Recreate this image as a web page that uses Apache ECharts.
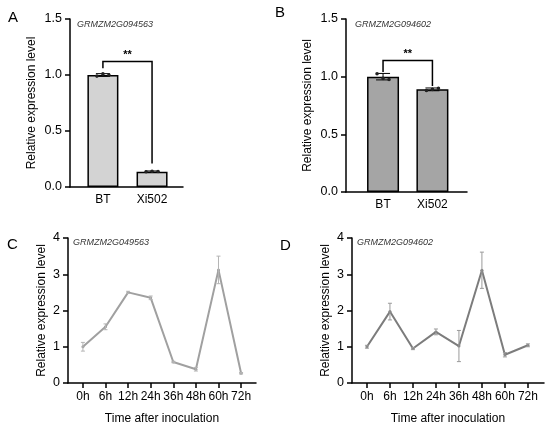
<!DOCTYPE html>
<html>
<head>
<meta charset="utf-8">
<script src="https://cdn.jsdelivr.net/npm/echarts@6/dist/echarts.min.js"></script>
<style>
  html, body { margin: 0; padding: 0; background: #fff; }
  #main { width: 550px; height: 426px; }
</style>
</head>
<body>
<div id="main"></div>
<script>
// 柱状图数据
var barCats = ['BT', 'Xi502'];
var aMean = [1.0, 0.137];
var aSd = [0.012, 0.006];
var aReps = [[0.99, 1.01, 1.0], [0.136, 0.14, 0.138]];
var bMean = [1.0, 0.89];
var bSd = [0.028, 0.012];
var bReps = [[1.025, 0.985, 0.975], [0.88, 0.89, 0.9]];
// 显著性括号 [左, 右, 顶部, 左端, 右端]
var aBracket = [0, 1, 1.12, 1.06, 0.21];
var bBracket = [0, 1, 1.14, 1.04, 0.92];

// 时间点数据
var timeCats = ['0h', '6h', '12h', '24h', '36h', '48h', '60h', '72h'];
var cMean = [1.0, 1.55, 2.5, 2.35, 0.58, 0.38, 3.12, 0.27];
var cSd = [0.12, 0.08, 0.03, 0.05, 0.02, 0.05, 0.38, 0.02];
var dMean = [1.0, 1.97, 0.95, 1.41, 1.02, 3.11, 0.78, 1.04];
var dSd = [0.04, 0.23, 0.03, 0.08, 0.43, 0.5, 0.06, 0.04];

var font = 'Liberation Sans, Arial, sans-serif';

var myechart = echarts.init(document.getElementById('main'));

function idx(arr) {
    return arr.map(function(v, i) { return i; });
}

function pairs(arr) {
    return arr.map(function(v, i) { return [i, v]; });
}

function errData(mean, sd) {
    return mean.map(function(v, i) { return [i, v - sd[i], v + sd[i]]; });
}

function repData(reps) {
    var out = [];
    reps.forEach(function(r, i) {
        r.forEach(function(v, j) { out.push([i, v, j]); });
    });
    return out;
}

// 误差线
function errSeries(xi, data, cap, color) {
    return {
        type: 'custom',
        xAxisIndex: xi,
        yAxisIndex: xi,
        data: data,
        z: 5,
        renderItem: function(params, api) {
            var lo = api.coord([api.value(0), api.value(1)]);
            var hi = api.coord([api.value(0), api.value(2)]);
            var st = { stroke: color, lineWidth: 1 };
            return {
                type: 'group',
                children: [
                    { type: 'line', shape: { x1: lo[0], y1: lo[1], x2: hi[0], y2: hi[1] }, style: st },
                    { type: 'line', shape: { x1: hi[0] - cap, y1: hi[1], x2: hi[0] + cap, y2: hi[1] }, style: st },
                    { type: 'line', shape: { x1: lo[0] - cap, y1: lo[1], x2: lo[0] + cap, y2: lo[1] }, style: st }
                ]
            };
        }
    };
}

// 重复点
function repSeries(xi, data) {
    return {
        type: 'custom',
        xAxisIndex: xi,
        yAxisIndex: xi,
        data: data,
        z: 6,
        renderItem: function(params, api) {
            var p = api.coord([api.value(0), api.value(1)]);
            var off = (api.value(2) - 1) * 6;
            return { type: 'circle', shape: { cx: p[0] + off, cy: p[1], r: 1.8 }, style: { fill: '#222' } };
        }
    };
}

// 显著性括号
function bracketSeries(xi, b) {
    return {
        type: 'custom',
        xAxisIndex: xi,
        yAxisIndex: xi,
        data: [b],
        z: 7,
        renderItem: function(params, api) {
            var l = api.coord([api.value(0), api.value(2)]);
            var r = api.coord([api.value(1), api.value(2)]);
            var lb = api.coord([api.value(0), api.value(3)]);
            var rb = api.coord([api.value(1), api.value(4)]);
            return {
                type: 'group',
                children: [
                    { type: 'polyline', shape: { points: [[lb[0], lb[1]], [l[0], l[1]], [r[0], r[1]], [rb[0], rb[1]]] },
                      style: { stroke: '#000', lineWidth: 1.5, fill: null } },
                    { type: 'text', x: (l[0] + r[0]) / 2, y: l[1] - 1,
                      style: { text: '**', fill: '#000', font: 'bold 11px ' + font, align: 'center', verticalAlign: 'bottom' } }
                ]
            };
        }
    };
}

var grids = [
    { left: 70, top: 19, width: 113, height: 168 },
    { left: 346, top: 19, width: 121, height: 173 },
    { left: 68, top: 238, width: 188, height: 145 },
    { left: 352, top: 238, width: 192, height: 145 }
];

var xRanges = [[-0.67, 1.63], [-0.75, 1.70], [-0.66, 7.66], [-0.65, 7.7]];

var xAxes = xRanges.map(function(r, i) {
    var cats = i < 2 ? barCats : timeCats;
    return {
        type: 'value',
        gridIndex: i,
        min: r[0],
        max: r[1],
        splitLine: { show: false },
        axisLine: { show: true, onZero: false, lineStyle: { color: '#000', width: 1.5 } },
        axisTick: i < 2 ? { show: false } : { show: true, length: 5, lineStyle: { color: '#000', width: 1.5 }, customValues: idx(cats) },
        axisLabel: {
            customValues: idx(cats),
            color: '#000',
            fontSize: 12,
            fontFamily: font,
            margin: i < 2 ? 7 : 8,
            formatter: function(v) { return cats[Math.round(v)]; }
        },
        name: i < 2 ? '' : 'Time after inoculation',
        nameLocation: 'middle',
        nameGap: 30,
        nameTextStyle: { color: '#000', fontSize: 12, fontFamily: font }
    };
});

var yAxes = grids.map(function(g, i) {
    var bar = i < 2;
    return {
        type: 'value',
        gridIndex: i,
        min: 0,
        max: bar ? 1.5 : 4,
        interval: bar ? 0.5 : 1,
        splitLine: { show: false },
        axisLine: { show: true, onZero: false, lineStyle: { color: '#000', width: 1.5 } },
        axisTick: { show: true, length: 5, lineStyle: { color: '#000', width: 1.5 } },
        axisLabel: {
            color: '#000',
            fontSize: 12.5,
            fontFamily: font,
            margin: 8,
            formatter: function(v) { return bar ? v.toFixed(1) : String(v); }
        },
        name: 'Relative expression level',
        nameLocation: 'middle',
        nameGap: bar ? 32 : 20,
        nameTextStyle: { color: '#000', fontSize: 12, fontFamily: font }
    };
});

var letters = [['A', 8, 10], ['B', 275, 5], ['C', 7, 237], ['D', 280, 238]];
var genes = [['GRMZM2G094563', 77, 20], ['GRMZM2G094602', 355, 20], ['GRMZM2G049563', 73, 238], ['GRMZM2G094602', 357, 238]];

var titles = letters.map(function(l) {
    return { text: l[0], left: l[1], top: l[2], padding: 0, textStyle: { fontSize: 15, fontWeight: 'normal', color: '#000', fontFamily: font } };
}).concat(genes.map(function(g) {
    return { text: g[0], left: g[1], top: g[2], padding: 0, textStyle: { fontSize: 9, fontStyle: 'italic', fontWeight: 'normal', color: '#333', fontFamily: font } };
}));

option = {
    backgroundColor: '#fff',
    animation: false,
    title: titles,
    grid: grids,
    xAxis: xAxes,
    yAxis: yAxes,
    series: [
        {
            type: 'bar', xAxisIndex: 0, yAxisIndex: 0, data: pairs(aMean), barWidth: 31,
            itemStyle: { color: '#d3d3d3', borderColor: '#000', borderWidth: 1.5 }
        },
        {
            type: 'bar', xAxisIndex: 1, yAxisIndex: 1, data: pairs(bMean), barWidth: 32,
            itemStyle: { color: '#a5a5a5', borderColor: '#000', borderWidth: 1.5 }
        },
        errSeries(0, errData(aMean, aSd), 7, '#000'),
        errSeries(1, errData(bMean, bSd), 7, '#000'),
        repSeries(0, repData(aReps)),
        repSeries(1, repData(bReps)),
        bracketSeries(0, aBracket),
        bracketSeries(1, bBracket),
        {
            type: 'line', xAxisIndex: 2, yAxisIndex: 2, data: pairs(cMean),
            symbol: 'circle', symbolSize: 3,
            lineStyle: { color: '#a0a0a0', width: 2 },
            itemStyle: { color: '#a0a0a0' }
        },
        {
            type: 'line', xAxisIndex: 3, yAxisIndex: 3, data: pairs(dMean),
            symbol: 'circle', symbolSize: 3,
            lineStyle: { color: '#7c7c7c', width: 2 },
            itemStyle: { color: '#7c7c7c' }
        },
        errSeries(2, errData(cMean, cSd), 2, '#b5b5b5'),
        errSeries(3, errData(dMean, dSd), 2, '#9a9a9a')
    ]
};
myechart.setOption(option);
</script>
</body>
</html>
